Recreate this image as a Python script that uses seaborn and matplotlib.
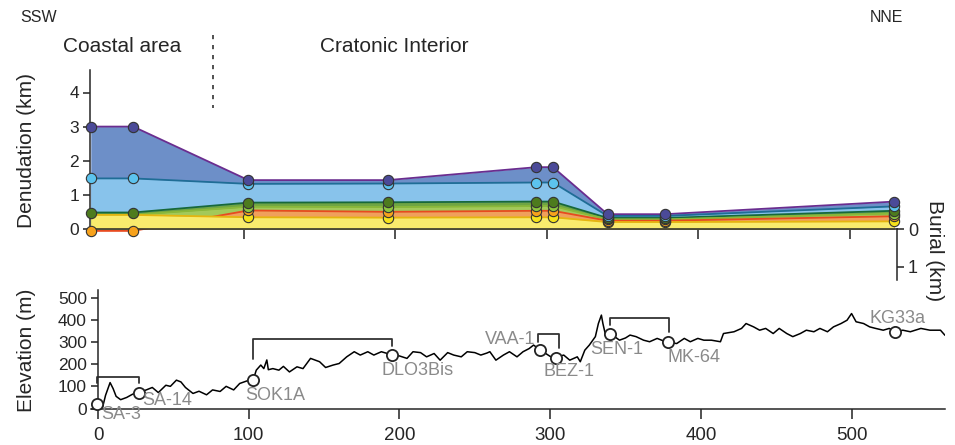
import numpy as np
import pandas as pd
import matplotlib
matplotlib.use("Agg")
import matplotlib.pyplot as plt
import seaborn as sns
from matplotlib.lines import Line2D

# ---------------- data ----------------
sample_names = ["SA-3", "SA-14", "SOK1A", "DLO3Bis", "VAA-1", "BEZ-1", "SEN-1", "MK-64", "KG33a"]
sample_km = [-1, 27, 103, 195, 293, 304, 340, 378, 529]
sample_elev = [22, 72, 130, 243, 266, 230, 338, 298, 346]

# denudation (km) of each thermal-history layer at every sample (bottom -> top)
den_yellow = [0.41, 0.41, 0.34, 0.33, 0.34, 0.34, 0.20, 0.20, 0.22]
den_orange = [-0.06, -0.06, 0.54, 0.50, 0.53, 0.53, 0.24, 0.24, 0.37]
den_lightgreen = [0.41, 0.41, 0.65, 0.64, 0.67, 0.67, 0.28, 0.28, 0.45]
den_green = [0.48, 0.48, 0.77, 0.78, 0.80, 0.80, 0.32, 0.32, 0.53]
den_lightblue = [1.48, 1.48, 1.32, 1.33, 1.36, 1.36, 0.38, 0.38, 0.66]
den_darkblue = [3.00, 3.00, 1.43, 1.43, 1.81, 1.81, 0.43, 0.43, 0.80]
# which samples carry a dated point for each layer
pts_yellow = [False, False, True, True, True, True, True, True, True]
pts_lightgreen = [False, False, True, True, True, True, True, True, True]

# topographic profile (km along section, elevation m)
profile_km = [-1, 1, 3, 5, 8, 10, 12, 15, 19, 23, 27, 32, 36, 40, 45, 48, 52, 55, 58, 63,
              67, 72, 76, 81, 85, 90, 94, 99, 103, 105, 108, 110, 112, 113, 116, 120, 123,
              127, 132, 136, 141, 147, 151, 156, 160, 165, 170, 174, 179, 183, 188, 192, 195,
              200, 205, 209, 214, 218, 223, 227, 232, 236, 241, 245, 250, 254, 258, 260, 264,
              269, 273, 278, 282, 286, 289, 293, 297, 300, 304, 309, 313, 318, 320, 323, 326,
              330, 332, 334, 335, 337, 340, 346, 350, 353, 357, 362, 366, 371, 374, 378, 384,
              389, 393, 398, 402, 407, 413, 415, 422, 427, 430, 435, 439, 443, 448, 452, 457,
              461, 466, 470, 475, 479, 484, 488, 493, 497, 500, 503, 508, 512, 516, 521, 525,
              529, 534, 539, 546, 552, 559, 562]
profile_m = [25, 2, 5, 60, 117, 90, 55, 40, 50, 65, 72, 84, 95, 72, 105, 100, 128, 120, 95, 68,
             78, 62, 84, 77, 100, 84, 113, 125, 130, 173, 196, 180, 219, 175, 180, 173, 190,
             165, 188, 180, 226, 211, 185, 196, 203, 233, 256, 241, 256, 241, 256, 248, 243,
             237, 226, 256, 252, 233, 248, 218, 252, 241, 233, 256, 252, 241, 250, 256, 218,
             241, 256, 233, 256, 270, 286, 266, 248, 235, 230, 241, 218, 233, 211, 263, 286,
             324, 383, 421, 383, 324, 338, 308, 318, 331, 324, 308, 301, 316, 308, 298, 293,
             316, 301, 316, 308, 308, 301, 338, 346, 361, 383, 368, 353, 361, 338, 361, 338,
             324, 338, 353, 346, 361, 346, 368, 383, 398, 428, 391, 383, 368, 361, 353, 361,
             346, 353, 346, 361, 353, 353, 330]

# sample-pair brackets on the profile
bracket_left = [-1, 103, 292, 340]
bracket_right = [27, 195, 306, 379]
bracket_top = [143, 313, 334, 409]
bracket_left_foot = [113, 225, 300, 376]
bracket_right_foot = [113, 281, 271, 346]

# label placement (pixel offsets from each sample circle)
label_dx = [25, 28, 22, 26, -29, 13, 6, 26, 2]
label_dy = [-11, -8, -16, -16, 10, -14, -16, -15, 13]

# ---------------- style ----------------
sns.set_style("ticks")
plt.rcParams['font.family'] = ['Liberation Sans', 'DejaVu Sans']
plt.rcParams['axes.linewidth'] = 1.1
plt.rcParams['xtick.major.width'] = 1.1
plt.rcParams['ytick.major.width'] = 1.1
dark = "#222222"

fig = plt.figure(figsize=(9.55, 4.45), dpi=100)
W, H = 955.0, 445.0
ax_top = fig.add_axes([90 / W, 1 - 280 / H, 807 / W, 210 / H])
ax_bot = fig.add_axes([90.5 / W, 1 - 409 / H, 854.5 / W, 119.2 / H])

# ---------------- top panel: denudation ----------------
layers = [  # top -> bottom for painting
    (den_darkblue, "#6d8fc8", "#6a2d8f", "#4b4a98", None),
    (den_lightblue, "#88c3eb", "#1f6d96", "#5cc3ee", None),
    (den_green, "#6fa544", "#17683a", "#4d7b1e", None),
    (den_lightgreen, "#a3c95a", "#8ab83a", "#8ec63f", pts_lightgreen),
    (den_orange, "#f0a05c", "#e84a1f", "#f7a21c", None),
    (den_yellow, "#f9eb6d", "#e5b50f", "#f5e21a", pts_yellow),
]
for i, (vals, fc, lc, pc, mask) in enumerate(layers):
    v = np.array(vals)
    ax_top.fill_between(sample_km, 0, np.maximum(v, 0), color=fc, lw=0, zorder=1 + 0.1 * i)
    sns.lineplot(x=sample_km, y=vals, ax=ax_top, color=lc, lw=1.3, zorder=1.05 + 0.1 * i,
                 estimator=None, legend=False)

for vals, fc, lc, pc, mask in layers[::-1]:
    v = np.array(vals, dtype=float)
    if mask is not None:
        v = np.where(mask, v, np.nan)
    df = pd.DataFrame({"km": sample_km, "d": v}).dropna()
    sns.scatterplot(data=df, x="km", y="d", ax=ax_top, color=pc, s=55,
                    edgecolor="#333333", linewidth=0.8, zorder=5, clip_on=False,
                    legend=False)

ax_top.set_xlim(-1.5, 531)
ax_top.set_ylim(-1.5, 4.66)
ax_top.spines['top'].set_visible(False)
ax_top.spines['right'].set_visible(False)
ax_top.spines['bottom'].set_position(('data', 0))
ax_top.spines['bottom'].set_zorder(3)
ax_top.spines['left'].set_bounds(0, 4.66)
ax_top.set_xticks([100, 200, 300, 400, 500])
ax_top.set_xticklabels([])
ax_top.set_yticks([0, 1, 2, 3, 4])
ax_top.tick_params(axis='x', direction='out', length=7, color=dark)
ax_top.tick_params(axis='y', direction='out', length=5, color=dark, labelsize=12.5, pad=3)
ax_top.set_xlabel("")
ax_top.set_ylabel("")
ax_top.patch.set_alpha(0)

# burial axis
ax_bur = ax_top.twinx()
ax_bur.set_ylim(1.353, -4.22)
for s in ['top', 'left', 'bottom']:
    ax_bur.spines[s].set_visible(False)
ax_bur.spines['right'].set_bounds(0, 1.353)
ax_bur.set_yticks([0, 1])
ax_bur.tick_params(axis='y', direction='out', length=5, color=dark, labelsize=13, pad=3)

# ---------------- bottom panel: elevation ----------------
sns.lineplot(x=profile_km, y=profile_m, ax=ax_bot, color="black", lw=1.1,
             estimator=None, legend=False, zorder=2)
for xl, xr, yt, yl, yr in zip(bracket_left, bracket_right, bracket_top,
                              bracket_left_foot, bracket_right_foot):
    ax_bot.plot([xl, xl, xr, xr], [yl, yt, yt, yr], color="#333333", lw=1.3, zorder=2)
sns.scatterplot(x=sample_km, y=sample_elev, ax=ax_bot, s=65, facecolor="white",
                edgecolor="#222222", linewidth=1.3, zorder=4, clip_on=False, legend=False)
for name, x, y, dx, dy in zip(sample_names, sample_km, sample_elev, label_dx, label_dy):
    ax_bot.annotate(name, (x, y), xytext=(dx, dy), textcoords='offset pixels',
                    ha='center', va='center', fontsize=13, color="#8a8a8a", zorder=6)

ax_bot.set_xlim(-5, 562)
ax_bot.set_ylim(-2, 535)
ax_bot.spines['top'].set_visible(False)
ax_bot.spines['right'].set_visible(False)
ax_bot.spines['left'].set_position(('data', 0))
ax_bot.set_xticks([0, 100, 200, 300, 400, 500])
ax_bot.set_yticks([0, 100, 200, 300, 400, 500])
ax_bot.tick_params(axis='x', direction='out', length=7, color=dark, labelsize=13.5, pad=6)
ax_bot.tick_params(axis='y', direction='out', length=5, color=dark, labelsize=12.5, pad=3)
ax_bot.set_xlabel("")
ax_bot.set_ylabel("")
ax_bot.patch.set_alpha(0)

# ---------------- annotations ----------------
fig.text(20 / W, 1 - 18 / H, "SSW", ha='left', va='center', fontsize=11.5)
fig.text(903 / W, 1 - 18 / H, "NNE", ha='right', va='center', fontsize=11.5)
fig.text(63 / W, 1 - 46 / H, "Coastal area", ha='left', va='center', fontsize=15)
fig.text(320 / W, 1 - 46 / H, "Cratonic Interior", ha='left', va='center', fontsize=15)
fig.add_artist(Line2D([213 / W, 213 / W], [1 - 35 / H, 1 - 108 / H], transform=fig.transFigure,
                      ls=(0, (2.5, 3.5)), color="#333333", lw=1.2))
fig.text(26 / W, 1 - 151 / H, "Denudation (km)", rotation=90, ha='center', va='center', fontsize=15)
fig.text(26 / W, 1 - 350 / H, "Elevation (m)", rotation=90, ha='center', va='center', fontsize=15)
fig.text(934 / W, 1 - 251 / H, "Burial (km)", rotation=270, ha='center', va='center', fontsize=15)

fig.savefig("out.png", dpi=100)
